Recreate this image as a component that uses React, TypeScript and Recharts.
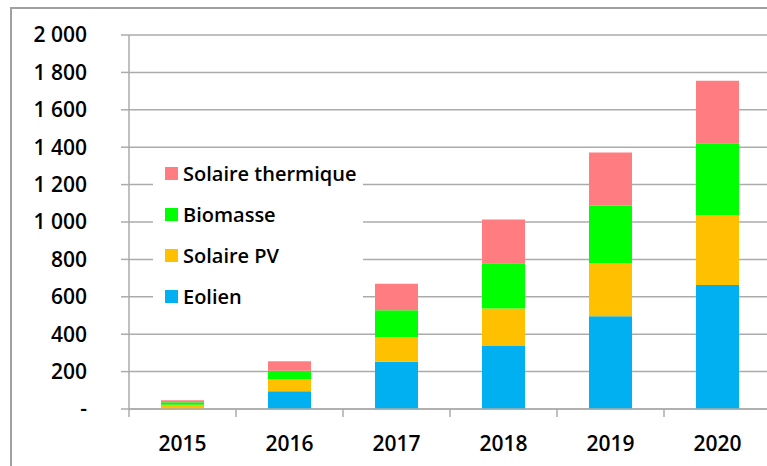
import { BarChart, Bar, XAxis, YAxis, CartesianGrid, Legend } from 'recharts';

const years = ['2015', '2016', '2017', '2018', '2019', '2020'];
const eolien = [0, 95, 253, 337, 496, 663];
const solairePV = [23, 64, 132, 201, 285, 374];
const biomasse = [13, 46, 143, 241, 306, 384];
const solaireThermique = [11, 50, 142, 235, 285, 335];
const yTicks = [0, 200, 400, 600, 800, 1000, 1200, 1400, 1600, 1800, 2000];

const series = [
  { key: 'eolien', name: 'Eolien', color: '#00B0F0', values: eolien },
  { key: 'pv', name: 'Solaire PV', color: '#FFC000', values: solairePV },
  { key: 'bio', name: 'Biomasse', color: '#00FF00', values: biomasse },
  { key: 'thermique', name: 'Solaire thermique', color: '#FF7C80', values: solaireThermique },
];

const data = years.map((year, i) => {
  const row: Record<string, string | number> = { year };
  series.forEach(s => { row[s.key] = s.values[i]; });
  return row;
});

const CHART_W = 780;
const CHART_H = 466;
const MARGIN = { top: 35, right: 9, left: 0, bottom: 0 };
const Y_AXIS_W = 129;
const PLOT_W = CHART_W - MARGIN.left - MARGIN.right - Y_AXIS_W;
const BAND = PLOT_W / years.length;
const FONT = '"Open Sans", "Noto Sans", sans-serif';
const GRID = '#ababab';

const fmt = (v: number) => (v === 0 ? '-' : v.toLocaleString('en-US').replace(',', ' '));

function YearTick(props: any) {
  const { x, y, payload, index } = props;
  const half = BAND / 2;
  return (
    <g>
      <line x1={x - half} x2={x - half} y1={y - 8} y2={y} stroke={GRID} strokeWidth={1.5} />
      {index === years.length - 1 && (
        <line x1={x + half} x2={x + half} y1={y - 8} y2={y} stroke={GRID} strokeWidth={1.5} />
      )}
      <text x={x} y={y + 34} textAnchor="middle" fill="#000" fontSize={21} fontWeight={600} fontFamily={FONT}>
        {payload.value}
      </text>
    </g>
  );
}

function LegendBox() {
  const items = [...series].reverse();
  return (
    <div style={{ background: '#fff', padding: '0 0 4px 12px', fontFamily: FONT }}>
      {items.map(s => (
        <div key={s.key} style={{ display: 'flex', alignItems: 'center', height: 41 }}>
          <span style={{ width: 13, height: 13, background: s.color, marginRight: 5, display: 'inline-block' }} />
          <span style={{ fontSize: 20, color: '#000', fontWeight: 600, whiteSpace: 'nowrap' }}>{s.name}</span>
        </div>
      ))}
    </div>
  );
}

export default function App() {
  return (
    <div style={{ position: 'absolute', left: 0, top: 0, width: 767, height: 466, overflow: 'hidden', background: '#fff' }}>
      <div style={{ position: 'absolute', left: 10, top: 7, width: 800, height: 500, borderTop: '2px solid #a0a0a0', borderLeft: '2px solid #a0a0a0' }} />
      <div style={{ position: 'absolute', left: 0, top: 0 }}>
        <BarChart width={CHART_W} height={CHART_H} data={data} margin={MARGIN} barSize={43}>
          <CartesianGrid vertical={false} stroke={GRID} strokeWidth={1.5} />
          <XAxis
            dataKey="year"
            height={57}
            tickLine={false}
            tickSize={8}
            tickMargin={0}
            axisLine={{ stroke: GRID, strokeWidth: 1.5 }}
            tick={<YearTick />}
            interval={0}
          />
          <YAxis
            width={Y_AXIS_W}
            domain={[0, 2000]}
            ticks={yTicks}
            interval={0}
            tickFormatter={fmt}
            tickSize={8}
            tickMargin={34}
            axisLine={{ stroke: GRID, strokeWidth: 1.5 }}
            tickLine={{ stroke: GRID, strokeWidth: 1.5 }}
            tick={{ fill: '#000', fontSize: 21, fontWeight: 600, fontFamily: FONT }}
          />
          <Legend
            layout="vertical"
            align="center"
            verticalAlign="middle"
            content={<LegendBox />}
            wrapperStyle={{ position: 'absolute', left: 153, top: 153, width: 210 }}
          />
          {series.map(s => (
            <Bar key={s.key} dataKey={s.key} name={s.name} stackId="a" fill={s.color} isAnimationActive={false} />
          ))}
        </BarChart>
      </div>
    </div>
  );
}
